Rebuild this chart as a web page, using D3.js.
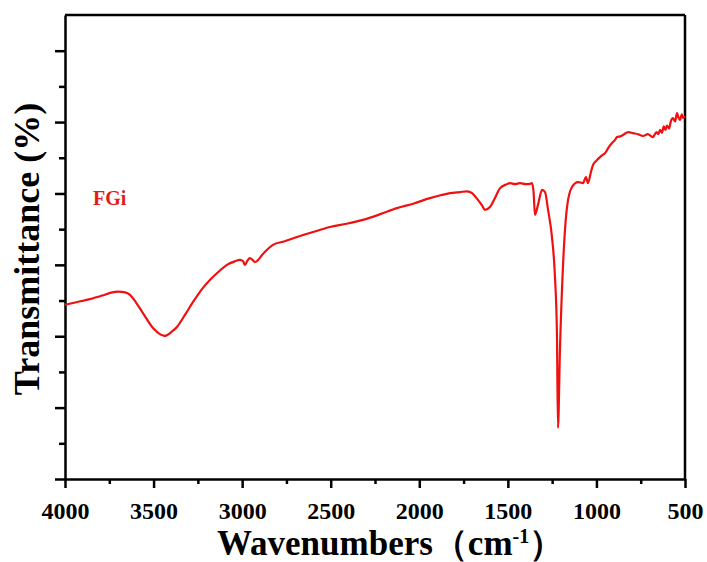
<!DOCTYPE html>
<html>
<head>
<meta charset="utf-8">
<script src="https://cdn.jsdelivr.net/npm/d3@7"></script>
<style>
  body { margin: 0; background: #fff; }
  .axis text { font-family: "Liberation Serif", "Times New Roman", serif; font-weight: bold; font-size: 24px; fill: #000; }
  .axis path, .axis line { stroke: #000; stroke-width: 2.5px; }
</style>
</head>
<body>
<div id="chart"></div>
<script>
// FTIR spectrum of FGi
const wavenumber = [4000, 3930, 3859, 3790, 3740, 3700, 3661, 3633, 3600, 3560, 3503, 3464, 3445, 3435, 3420, 3407, 3368, 3320, 3277, 3230, 3181, 3130, 3086,
  3040, 3012, 2995, 2984, 2970, 2956, 2940, 2927, 2880, 2826, 2760, 2690, 2600, 2504, 2410, 2318, 2220, 2126, 2030, 1940, 1880, 1827, 1770,
  1730, 1702, 1669, 1645, 1629, 1601, 1573, 1544, 1510, 1488, 1460, 1431, 1400, 1375, 1364, 1355, 1347, 1330, 1307, 1290, 1273, 1251, 1234,
  1223, 1217, 1206, 1189, 1166, 1138, 1104, 1076, 1059, 1048, 1030, 1019, 1000, 980, 965, 952, 930, 907, 895, 884, 865, 850, 820, 794, 765, 737,
  710, 681, 670, 660, 650, 641, 630, 620, 610, 602, 590, 580, 568, 556, 545, 536, 528, 518, 511, 500];
const transmittance = [4.88, 4.96, 5.04, 5.14, 5.22, 5.25, 5.23, 5.16, 4.95, 4.65, 4.23, 4.06, 4.02, 4.01, 4.04, 4.09, 4.26, 4.62, 4.96, 5.30, 5.58, 5.82, 6.00,
  6.10, 6.14, 6.10, 6.00, 6.12, 6.19, 6.13, 6.08, 6.32, 6.56, 6.66, 6.78, 6.92, 7.06, 7.15, 7.26, 7.42, 7.59, 7.72, 7.87, 7.95, 8.01, 8.04,
  8.06, 8.01, 7.82, 7.66, 7.54, 7.62, 7.87, 8.15, 8.25, 8.29, 8.26, 8.29, 8.26, 8.27, 8.29, 8.05, 7.40, 7.68, 8.10, 8.04, 7.54, 6.78, 5.66,
  4.09, 1.43, 3.61, 5.94, 7.62, 8.18, 8.32, 8.29, 8.46, 8.29, 8.62, 8.80, 8.92, 9.02, 9.08, 9.13, 9.30, 9.44, 9.50, 9.58, 9.60, 9.64, 9.72, 9.69, 9.66, 9.61,
  9.66, 9.58, 9.66, 9.72, 9.66, 9.78, 9.70, 9.88, 9.78, 9.90, 9.82, 10.02, 10.11, 10.02, 10.25, 10.12, 10.06, 10.22, 10.12, 10.16];

const xMajor = [4000, 3500, 3000, 2500, 2000, 1500, 1000, 500];
const xMinor = [3750, 3250, 2750, 2250, 1750, 1250, 750];
const yMajor = [0, 2, 4, 6, 8, 10, 12];
const yMinor = [1, 3, 5, 7, 9, 11];

const sampleName = "FGi";

const totalW = 707, totalH = 562;
const margin = { top: 15, right: 22, bottom: 83, left: 65 };
const width = totalW - margin.left - margin.right;
const height = totalH - margin.top - margin.bottom;

const svg = d3.select("#chart").append("svg")
  .attr("width", totalW)
  .attr("height", totalH);

const g = svg.append("g")
  .attr("transform", "translate(" + margin.left + "," + margin.top + ")");

const x = d3.scaleLinear().domain([4000, 500]).range([0, width]);
const y = d3.scaleLinear().domain([0, 13]).range([height, 0]);

const data = wavenumber.map((w, i) => ({ w: w, t: transmittance[i] }));

// frame: top and right
g.append("line").attr("x1", 0).attr("x2", width).attr("y1", 0).attr("y2", 0)
  .attr("stroke", "#000").attr("stroke-width", 2.5);
g.append("line").attr("x1", width).attr("x2", width).attr("y1", 0).attr("y2", height)
  .attr("stroke", "#000").attr("stroke-width", 2.5);

// x axis
g.append("g").attr("class", "axis")
  .attr("transform", "translate(0," + height + ")")
  .call(d3.axisBottom(x).tickValues(xMinor).tickSize(5).tickFormat(""))
  .select(".domain").remove();
g.append("g").attr("class", "axis")
  .attr("transform", "translate(0," + height + ")")
  .call(d3.axisBottom(x).tickValues(xMajor).tickSize(9).tickSizeOuter(0).tickPadding(14).tickFormat(d3.format("d")));

// y axis (no labels)
g.append("g").attr("class", "axis")
  .call(d3.axisLeft(y).tickValues(yMinor).tickSize(6).tickFormat(""))
  .select(".domain").remove();
g.append("g").attr("class", "axis")
  .call(d3.axisLeft(y).tickValues(yMajor).tickSize(10).tickSizeOuter(0).tickFormat(""));

// spectrum
const line = d3.line()
  .x(d => x(d.w))
  .y(d => y(d.t))
  .curve(d3.curveMonotoneX);

g.append("path")
  .datum(data)
  .attr("fill", "none")
  .attr("stroke", "#f01010")
  .attr("stroke-width", 2.2)
  .attr("stroke-linejoin", "round")
  .attr("d", line);

g.append("text")
  .attr("x", 28)
  .attr("y", 190)
  .attr("fill", "#e31a1a")
  .style("font-family", "'Liberation Serif', serif")
  .style("font-weight", "bold")
  .style("font-size", "20px")
  .text(sampleName);

// axis titles
const xt = svg.append("text")
  .attr("x", 217)
  .attr("y", 555)
  .style("font-family", "'Liberation Serif', serif")
  .style("font-weight", "bold")
  .style("font-size", "35px");
xt.append("tspan").text("Wavenumbers（cm");
xt.append("tspan").attr("dy", -12).style("font-size", "20px").text("-1");
xt.append("tspan").attr("dy", 12).text("）");

svg.append("text")
  .attr("transform", "translate(39," + (margin.top + 234) + ") rotate(-90)")
  .attr("text-anchor", "middle")
  .style("font-family", "'Liberation Serif', serif")
  .style("font-weight", "bold")
  .style("font-size", "36px")
  .text("Transmittance (%)");
</script>
</body>
</html>
